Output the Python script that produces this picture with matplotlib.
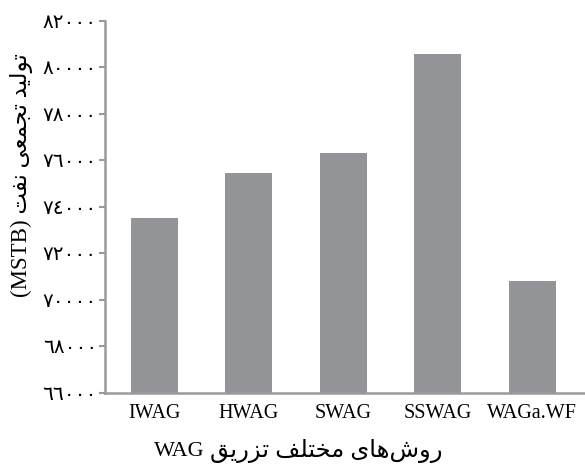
import matplotlib
matplotlib.use("Agg")
from matplotlib import pyplot as plt

methods = ["IWAG", "HWAG", "SWAG", "SSWAG", "WAGa.WF"]
production = [73500, 75450, 76300, 80600, 70800]
yticks = [66000, 68000, 70000, 72000, 74000, 76000, 78000, 80000, 82000]

ylabel_fa = "تولید تجمعی نفت"
xlabel_fa = "روش‌های مختلف تزریق"

# presentation forms: isolated, final, initial, medial
forms = {
    "ا": ("\uFE8D", "\uFE8E", None, None),
    "ت": ("\uFE95", "\uFE96", "\uFE97", "\uFE98"),
    "ج": ("\uFE9D", "\uFE9E", "\uFE9F", "\uFEA0"),
    "خ": ("\uFEA5", "\uFEA6", "\uFEA7", "\uFEA8"),
    "د": ("\uFEA9", "\uFEAA", None, None),
    "ر": ("\uFEAD", "\uFEAE", None, None),
    "ز": ("\uFEAF", "\uFEB0", None, None),
    "ش": ("\uFEB5", "\uFEB6", "\uFEB7", "\uFEB8"),
    "ع": ("\uFEC9", "\uFECA", "\uFECB", "\uFECC"),
    "ف": ("\uFED1", "\uFED2", "\uFED3", "\uFED4"),
    "ق": ("\uFED5", "\uFED6", "\uFED7", "\uFED8"),
    "ل": ("\uFEDD", "\uFEDE", "\uFEDF", "\uFEE0"),
    "م": ("\uFEE1", "\uFEE2", "\uFEE3", "\uFEE4"),
    "ن": ("\uFEE5", "\uFEE6", "\uFEE7", "\uFEE8"),
    "ه": ("\uFEE9", "\uFEEA", "\uFEEB", "\uFEEC"),
    "و": ("\uFEED", "\uFEEE", None, None),
    "ی": ("\uFEEF", "\uFEF0", "\uFEF3", "\uFEF4"),
}


def shape(text):
    # join letters by hand and reverse, matplotlib has no RTL layout
    out = []
    n = len(text)
    for i, ch in enumerate(text):
        if ch not in forms:
            if ch != "\u200c":
                out.append(ch)
            continue
        prev = text[i - 1] if i > 0 else ""
        nxt = text[i + 1] if i < n - 1 else ""
        join_prev = prev in forms and forms[prev][2] is not None
        join_next = nxt in forms and forms[ch][2] is not None
        iso, fin, ini, med = forms[ch]
        if join_prev and join_next:
            out.append(med)
        elif join_prev:
            out.append(fin)
        elif join_next:
            out.append(ini)
        else:
            out.append(iso)
    return "".join(out)[::-1]


def to_arabic_digits(v):
    return str(v).translate(str.maketrans("0123456789", "٠١٢٣٤٥٦٧٨٩"))


plt.rcParams['font.family'] = ['Liberation Serif', 'DejaVu Sans']
plt.rcParams['font.size'] = 14.5

grey = "#929497"
spine = "#9a9a9a"

fig = plt.figure(figsize=(5.85, 4.67), dpi=100)
ax = fig.add_axes([0.180, 0.159, 0.82, 0.796])
ax.bar(range(len(methods)), production, width=0.5, color=grey)

ax.set_ylim(66000, 82000)
ax.set_xlim(-0.52, 4.56)
ax.set_yticks(yticks)
ax.set_yticklabels([to_arabic_digits(v) for v in yticks])
ax.set_xticks(range(len(methods)))
ax.set_xticklabels(methods)

for s in ["top", "right"]:
    ax.spines[s].set_visible(False)
for s in ["left", "bottom"]:
    ax.spines[s].set_color(spine)
    ax.spines[s].set_linewidth(1.8)
ax.tick_params(axis='y', length=4, width=1.5, color=spine, pad=2)
ax.tick_params(axis='x', length=0, pad=8)

ax.set_ylabel("(MSTB) " + shape(ylabel_fa), fontsize=16.5)
ax.yaxis.set_label_coords(-0.15, 0.585)

# x label in two pieces so the Persian part can be a bit larger
fig.text(205 / 585, 1 - 451 / 467, "WAG", fontsize=16, ha='right', va='center')
fig.text(210 / 585, 1 - 451 / 467, shape(xlabel_fa), fontsize=17.5,
         ha='left', va='center')

plt.savefig('out.png')
